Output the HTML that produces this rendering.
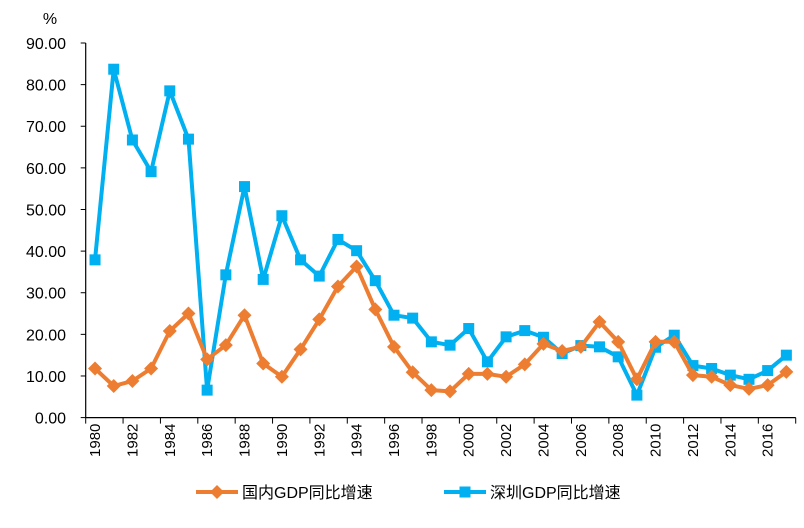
<!DOCTYPE html>
<html><head><meta charset="utf-8"><style>
body{margin:0;background:#fff;}
svg text{font-family:"Liberation Sans","Noto Sans CJK SC",sans-serif;fill:#000;}
</style></head><body>
<svg id="chart" width="804" height="523"></svg>
<script>
const years = [];
for (let y = 1980; y <= 2017; y++) years.push(y);
const nationalGdp = [11.8,7.6,8.8,11.8,20.8,25.0,14.0,17.4,24.6,13.0,9.8,16.4,23.6,31.5,36.3,26.0,17.0,10.9,6.6,6.3,10.5,10.5,9.8,12.8,17.7,16.0,17.0,23.0,18.2,9.2,18.2,18.2,10.2,9.8,7.8,6.9,7.8,11.0];
const shenzhenGdp = [37.9,83.7,66.7,59.1,78.5,66.9,6.6,34.3,55.5,33.2,48.5,37.9,34.0,42.8,40.1,32.9,24.6,23.9,18.2,17.4,21.4,13.4,19.4,20.9,19.3,15.4,17.3,17.0,14.6,5.4,16.9,19.8,12.5,11.8,10.2,9.2,11.3,15.0];
const yTicks = [0,10,20,30,40,50,60,70,80,90];

const NS = "http://www.w3.org/2000/svg";
const svg = document.getElementById("chart");
const x0 = 85.7, x1 = 795.7, yBase = 417.6, yTop = 43;
const bw = (x1 - x0) / years.length;
function xPos(i){ return x0 + (i + 0.5) * bw; }
function yPos(v){ return yBase - v * (yBase - yTop) / 90; }
function el(tag, attrs, parent){
  const e = document.createElementNS(NS, tag);
  for (const k in attrs) e.setAttribute(k, attrs[k]);
  (parent || svg).appendChild(e);
  return e;
}

// y axis
const yAxis = el("g", {});


el("line", {x1:x0, y1:yTop, x2:x0, y2:yBase, stroke:"#000", "stroke-width":1.2}, yAxis);
yTicks.forEach(t => {
  const y = yPos(t);
  el("line", {x1:x0-5, y1:y, x2:x0, y2:y, stroke:"#000", "stroke-width":1}, yAxis);
  const tx = el("text", {x:66, y:y+6, "text-anchor":"end", "font-size":16}, yAxis);
  tx.textContent = t.toFixed(2);
  
  
});
const unit = el("text", {x:50, y:24, "text-anchor":"middle", "font-size":16});
unit.textContent = "%";



// x axis
const xAxis = el("g", {});


el("line", {x1:x0, y1:yBase, x2:x1, y2:yBase, stroke:"#000", "stroke-width":1.2}, xAxis);
for (let i = 0; i <= years.length; i += 2) {
  const x = x0 + i * bw;
  el("line", {x1:x, y1:yBase, x2:x, y2:yBase+6, stroke:"#000", "stroke-width":1}, xAxis);
}
years.forEach((yr, i) => {
  if (i % 2) return;
  const x = xPos(i);
  const tx = el("text", {x:0, y:0, "text-anchor":"end", "font-size":15, transform:`translate(${x+5},${yBase+6}) rotate(-90)`}, xAxis);
  tx.textContent = yr;
  
  
});

function series(vals, color, shape, name){
  const g = el("g", {});
  
  
  const pts = vals.map((v,i) => xPos(i).toFixed(1)+","+yPos(v).toFixed(1)).join(" ");
  el("polyline", {points:pts, fill:"none", stroke:color, "stroke-width":4, "stroke-linejoin":"round"}, g);
  vals.forEach((v,i) => {
    const x = xPos(i), y = yPos(v);
    let m;
    if (shape === "square") m = el("rect", {x:x-5.5, y:y-5.5, width:11, height:11, fill:color}, g);
    else m = el("polygon", {points:`${x},${y-7} ${x+7},${y} ${x},${y+7} ${x-7},${y}`, fill:color}, g);
    
    
  });
}
series(shenzhenGdp, "#00B0F0", "square", "shenzhen-gdp-series");
series(nationalGdp, "#ED7D31", "diamond", "national-gdp-series");

// legend
function legend(x, color, shape, label, name){
  const g = el("g", {});
  
  
  const y = 492;
  el("line", {x1:x, y1:y, x2:x+42, y2:y, stroke:color, "stroke-width":4}, g);
  const cx = x+21;
  if (shape === "square") el("rect", {x:cx-5.5, y:y-5.5, width:11, height:11, fill:color}, g);
  else el("polygon", {points:`${cx},${y-7} ${cx+7},${y} ${cx},${y+7} ${cx-7},${y}`, fill:color}, g);
  const t = el("text", {x:x+46, y:y+6, "font-size":16}, g);
  t.textContent = label;
}
legend(196, "#ED7D31", "diamond", "国内GDP同比增速", "legend-national");
legend(444, "#00B0F0", "square", "深圳GDP同比增速", "legend-shenzhen");
</script>
</body></html>
